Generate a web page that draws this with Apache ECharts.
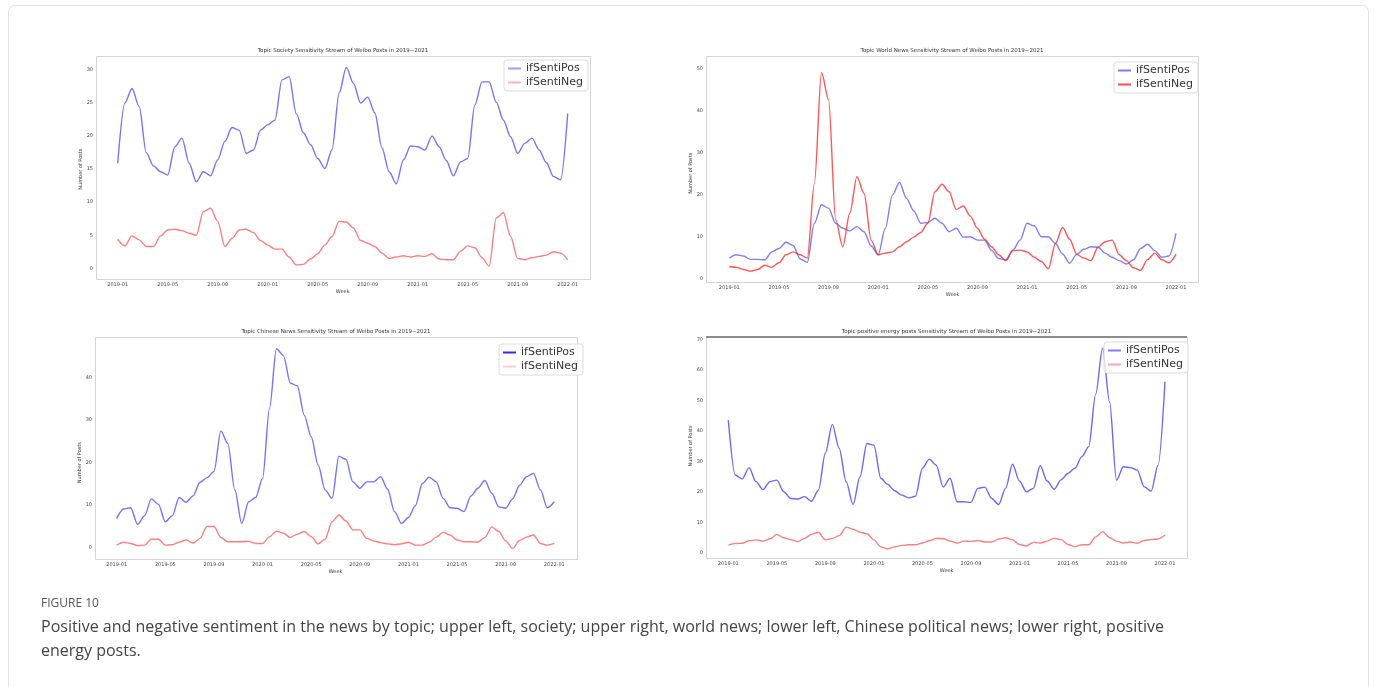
<!DOCTYPE html>
<html>
<head>
<meta charset="utf-8">
<title>Figure 10</title>
<script src="https://cdn.jsdelivr.net/npm/echarts@6/dist/echarts.min.js"></script>
<style>
  html, body { margin: 0; padding: 0; background: #fff; }
  #chart { width: 1375px; height: 687px; }
</style>
</head>
<body>
<div id="chart"></div>
<script>
// tick labels under every panel, one every 7 samples (64 samples per series)
const xTicks = ['2019-01', '2019-05', '2019-09', '2020-01', '2020-05', '2020-09', '2021-01', '2021-05', '2021-09', '2022-01'];
const seriesNames = ['ifSentiPos', 'ifSentiNeg'];

// upper left: society
const societyPos = [15.9, 25.0, 27.2, 24.5, 17.5, 15.5, 14.6, 14.1, 18.4, 19.7, 15.9, 13.1, 14.6, 14.0, 16.4, 19.2, 21.3, 20.9, 17.4, 17.9, 20.9, 21.7, 22.4, 28.5, 29.0, 23.4, 20.5, 18.7, 16.6, 15.1, 17.9, 26.5, 30.4, 28.0, 25.0, 25.9, 23.5, 18.2, 14.6, 12.8, 16.4, 18.5, 18.4, 17.9, 20.0, 18.4, 16.3, 14.0, 16.1, 16.6, 24.7, 28.2, 28.2, 25.1, 22.4, 19.9, 17.4, 18.9, 19.7, 17.9, 16.0, 13.9, 13.4, 23.4];
const societyNeg = [4.4, 3.4, 4.9, 4.3, 3.3, 3.3, 4.9, 5.8, 5.9, 5.7, 5.3, 5.0, 8.6, 9.1, 7.1, 3.3, 4.5, 5.8, 5.9, 5.4, 4.2, 3.5, 2.9, 2.9, 1.7, 0.5, 0.6, 1.4, 2.2, 3.5, 4.8, 7.1, 7.0, 6.1, 4.2, 3.8, 3.3, 2.3, 1.5, 1.7, 1.9, 1.7, 1.9, 1.8, 2.2, 1.4, 1.3, 1.3, 2.6, 3.4, 3.1, 1.6, 0.3, 7.6, 8.4, 4.8, 1.5, 1.3, 1.6, 1.8, 2.0, 2.5, 2.3, 1.3];

// upper right: world news
const worldPos = [4.8, 5.6, 5.3, 4.5, 4.5, 4.4, 6.3, 7.1, 8.6, 7.8, 4.6, 3.8, 13.1, 17.5, 16.7, 13.1, 11.9, 11.3, 12.3, 11.1, 7.7, 5.6, 11.9, 19.8, 22.8, 19.0, 16.1, 13.1, 13.3, 14.3, 13.1, 11.1, 11.9, 9.8, 9.9, 9.1, 9.1, 6.6, 4.7, 4.4, 6.7, 9.1, 13.1, 12.5, 9.9, 9.9, 8.3, 5.8, 3.6, 5.7, 6.9, 7.5, 7.4, 6.0, 5.0, 4.2, 3.4, 4.4, 7.1, 8.1, 6.6, 5.0, 5.3, 10.7];
const worldNeg = [2.8, 2.6, 2.1, 1.7, 2.1, 3.1, 2.6, 3.7, 5.6, 6.3, 5.6, 4.8, 22.6, 49.0, 42.5, 13.9, 7.5, 15.5, 24.2, 20.2, 9.1, 5.6, 6.0, 6.3, 7.5, 8.7, 9.8, 10.9, 13.1, 20.6, 22.4, 20.6, 16.4, 17.2, 14.8, 11.9, 9.3, 7.5, 5.6, 4.2, 6.6, 6.7, 6.3, 5.0, 4.0, 2.3, 8.3, 12.1, 9.3, 5.7, 4.8, 4.2, 7.4, 8.7, 9.1, 5.6, 4.2, 2.5, 1.9, 4.5, 6.0, 4.4, 3.7, 5.7];

// lower left: Chinese political news
const chinaPos = [6.9, 9.1, 9.4, 5.5, 7.5, 11.5, 10.2, 6.1, 7.5, 11.8, 10.7, 12.2, 15.4, 16.5, 17.9, 27.5, 24.5, 13.6, 5.7, 10.8, 11.8, 16.3, 32.8, 46.8, 45.2, 38.7, 38.1, 31.2, 26.1, 19.5, 13.6, 11.6, 21.5, 20.8, 15.5, 14.0, 15.5, 15.5, 16.7, 13.8, 8.5, 5.7, 7.1, 9.9, 15.1, 16.6, 15.5, 11.6, 9.4, 9.3, 8.5, 12.2, 14.0, 15.8, 12.8, 9.6, 9.3, 11.5, 14.7, 16.7, 17.5, 13.6, 9.4, 10.8];
const chinaNeg = [0.6, 1.3, 1.0, 0.5, 0.6, 2.0, 2.0, 0.6, 0.7, 1.3, 1.8, 1.1, 2.2, 5.0, 5.0, 2.4, 1.4, 1.4, 1.4, 1.5, 1.0, 1.0, 2.6, 3.9, 3.4, 2.4, 3.2, 3.8, 2.6, 0.9, 2.0, 6.1, 7.7, 6.3, 4.2, 4.2, 2.2, 1.6, 1.2, 0.9, 0.7, 0.9, 1.3, 0.6, 0.6, 1.3, 2.5, 3.6, 3.0, 1.8, 1.4, 1.4, 1.3, 2.4, 4.9, 3.8, 1.6, -0.2, 1.7, 2.5, 3.0, 1.0, 0.6, 1.0];

// lower right: positive energy posts
const energyPos = [43.5, 25.5, 24.2, 27.9, 23.3, 20.7, 23.3, 23.8, 20.0, 17.8, 17.6, 18.4, 16.9, 20.5, 32.6, 42.1, 34.2, 23.3, 15.8, 24.9, 35.8, 35.3, 24.4, 22.4, 20.3, 18.9, 18.0, 18.5, 27.7, 30.7, 28.7, 21.5, 24.4, 16.7, 16.7, 16.5, 21.1, 21.5, 17.8, 15.8, 21.1, 29.0, 23.5, 20.0, 21.1, 28.5, 23.5, 20.8, 23.9, 26.0, 27.7, 31.5, 34.8, 52.0, 67.2, 49.5, 23.8, 28.2, 27.9, 27.1, 21.6, 20.2, 28.7, 56.1];
const energyNeg = [2.5, 3.0, 3.1, 3.9, 4.2, 3.8, 4.5, 6.0, 4.9, 4.3, 3.6, 4.7, 6.0, 6.7, 4.2, 4.7, 5.6, 8.4, 7.7, 6.7, 6.2, 4.2, 1.9, 1.3, 1.9, 2.4, 2.6, 2.6, 3.2, 3.9, 4.7, 4.6, 3.8, 3.2, 3.8, 3.7, 4.0, 3.5, 3.5, 4.5, 4.9, 4.2, 2.7, 2.2, 3.4, 3.2, 3.8, 4.7, 4.3, 2.7, 2.0, 2.6, 2.6, 5.2, 6.9, 5.0, 3.8, 3.2, 3.5, 3.1, 4.0, 4.3, 4.5, 5.8];

const panels = [
  {
    title: 'Topic Society Sensitivity Stream of Weibo Posts in 2019~2021',
    pos: societyPos, neg: societyNeg, yMax: 30, yStep: 5,
    grid: { left: 117.7, top: 70, width: 450, height: 198.3 },
    frame: [96, 56, 494, 223], xOffset: 10.7, yOffset: 21.7,
    legendAt: [504, 60],
    line: ['rgba(40,40,255,0.65)', 'rgba(255,40,40,0.6)'],
    key: ['rgba(60,60,255,0.5)', 'rgba(255,60,60,0.4)']
  },
  {
    title: 'Topic World News Sensitivity Stream of Weibo Posts in 2019~2021',
    pos: worldPos, neg: worldNeg, yMax: 50, yStep: 10,
    grid: { left: 729.3, top: 68.3, width: 446.7, height: 210 },
    frame: [706, 56, 492, 226], xOffset: 3.7, yOffset: 23.3,
    legendAt: [1114, 62],
    line: ['rgba(40,40,255,0.6)', 'rgba(255,30,30,0.75)'],
    key: ['rgba(40,40,255,0.6)', 'rgba(255,30,30,0.8)']
  },
  {
    title: 'Topic Chinese News Sensitivity Stream of Weibo Posts in 2019~2021',
    pos: chinaPos, neg: chinaNeg, yMax: 40, yStep: 10,
    grid: { left: 116.7, top: 377.7, width: 437.6, height: 170 },
    frame: [95, 337, 482, 222], xOffset: 11.3, yOffset: 21.7,
    legendAt: [499, 344],
    line: ['rgba(40,40,255,0.65)', 'rgba(255,40,40,0.6)'],
    key: ['rgba(20,20,255,0.9)', 'rgba(255,60,60,0.25)']
  },
  {
    title: 'Topic positive energy posts Sensitivity Stream of Weibo Posts in 2019~2021',
    pos: energyPos, neg: energyNeg, yMax: 70, yStep: 10,
    grid: { left: 728.3, top: 339.3, width: 436.7, height: 213.4 },
    frame: [706, 337, 481, 221], xOffset: 5.3, yOffset: 22.3,
    legendAt: [1104, 342],
    line: ['rgba(40,40,255,0.7)', 'rgba(255,40,40,0.6)'],
    key: ['rgba(40,40,255,0.6)', 'rgba(255,60,60,0.45)']
  }
];

function toPoints(values) {
  return values.map((v, i) => [i, v]);
}

const grids = [], xAxes = [], yAxes = [], series = [], legends = [], graphics = [];

panels.forEach((p, k) => {
  grids.push(Object.assign({ show: false }, p.grid));
  xAxes.push({
    type: 'value', gridIndex: k, min: 0, max: 63, interval: 7, offset: p.xOffset,
    axisLine: { show: false },
    axisTick: { show: false },
    axisLabel: { fontSize: 5, color: '#444', margin: 3, formatter: v => xTicks[Math.round(v / 7)] },
    splitLine: { show: false },
    name: 'Week', nameLocation: 'middle', nameGap: 10,
    nameTextStyle: { fontSize: 5, color: '#333' }
  });
  yAxes.push({
    type: 'value', gridIndex: k, min: 0, max: p.yMax, interval: p.yStep, offset: p.yOffset,
    axisLine: { show: false },
    axisTick: { show: false },
    axisLabel: { fontSize: 5, color: '#444', margin: 3 },
    splitLine: { show: false },
    name: 'Number of Posts', nameLocation: 'middle', nameGap: 11, nameRotate: 90,
    nameTextStyle: { fontSize: 5, color: '#333' }
  });
  [p.pos, p.neg].forEach((vals, j) => {
    series.push({
      type: 'line', name: seriesNames[j], xAxisIndex: k, yAxisIndex: k,
      data: toPoints(vals), symbol: 'none', smooth: 0.3, smoothMonotone: 'x', clip: false,
      lineStyle: { color: p.line[j], width: 1.4 },
      itemStyle: { color: p.line[j] }
    });
  });
  legends.push({
    left: p.legendAt[0], top: p.legendAt[1], orient: 'vertical',
    icon: 'rect', itemWidth: 13, itemHeight: 2, itemGap: 3, padding: [3, 5, 3, 4],
    backgroundColor: 'rgba(255,255,255,0.8)', borderColor: '#dcdcdc', borderWidth: 1, borderRadius: 3,
    textStyle: { fontSize: 11, color: '#333', fontFamily: 'DejaVu Sans' },
    selectedMode: false,
    data: seriesNames.map((n, j) => ({
      name: n,
      itemStyle: { color: p.key[j], borderWidth: 0 },
      lineStyle: { color: p.key[j], width: 2 }
    }))
  });
  const f = p.frame;
  graphics.push({
    type: 'rect', shape: { x: f[0] + 0.5, y: f[1] + 0.5, width: f[2], height: f[3] },
    style: { fill: 'none', stroke: '#d4d4d4', lineWidth: 1 }, z: 1
  });
  graphics.push({
    type: 'text', x: f[0] + f[2] / 2, y: f[1] - 5,
    style: { text: p.title, fontSize: 5.5, fill: '#333', align: 'center', verticalAlign: 'middle', fontFamily: 'DejaVu Sans' }
  });
});

// darker top spine of the lower right panel
graphics.push({
  type: 'line', shape: { x1: 706, y1: 337, x2: 1187, y2: 337 },
  style: { stroke: '#8c8c8c', lineWidth: 2 }, z: 2
});

// outer figure box and caption
graphics.push({
  type: 'rect', shape: { x: 8.5, y: 5.5, width: 1360, height: 700, r: 6 },
  style: { fill: 'none', stroke: '#e2e2e2', lineWidth: 1 }, z: 0
});
graphics.push({
  type: 'text', x: 41, y: 604,
  style: { text: 'FIGURE 10', fontSize: 12, fill: '#555', verticalAlign: 'middle', fontFamily: 'Open Sans' }
});
graphics.push({
  type: 'text', x: 41, y: 627,
  style: { text: 'Positive and negative sentiment in the news by topic; upper left, society; upper right, world news; lower left, Chinese political news; lower right, positive', fontSize: 16, fill: '#444', verticalAlign: 'middle', fontFamily: 'Open Sans' }
});
graphics.push({
  type: 'text', x: 41, y: 651,
  style: { text: 'energy posts.', fontSize: 16, fill: '#444', verticalAlign: 'middle', fontFamily: 'Open Sans' }
});

const chart = echarts.init(document.getElementById('chart'));
chart.setOption({
  animation: false,
  backgroundColor: '#fff',
  textStyle: { fontFamily: 'DejaVu Sans' },
  grid: grids,
  xAxis: xAxes,
  yAxis: yAxes,
  legend: legends,
  series: series,
  graphic: graphics
});
</script>
</body>
</html>
